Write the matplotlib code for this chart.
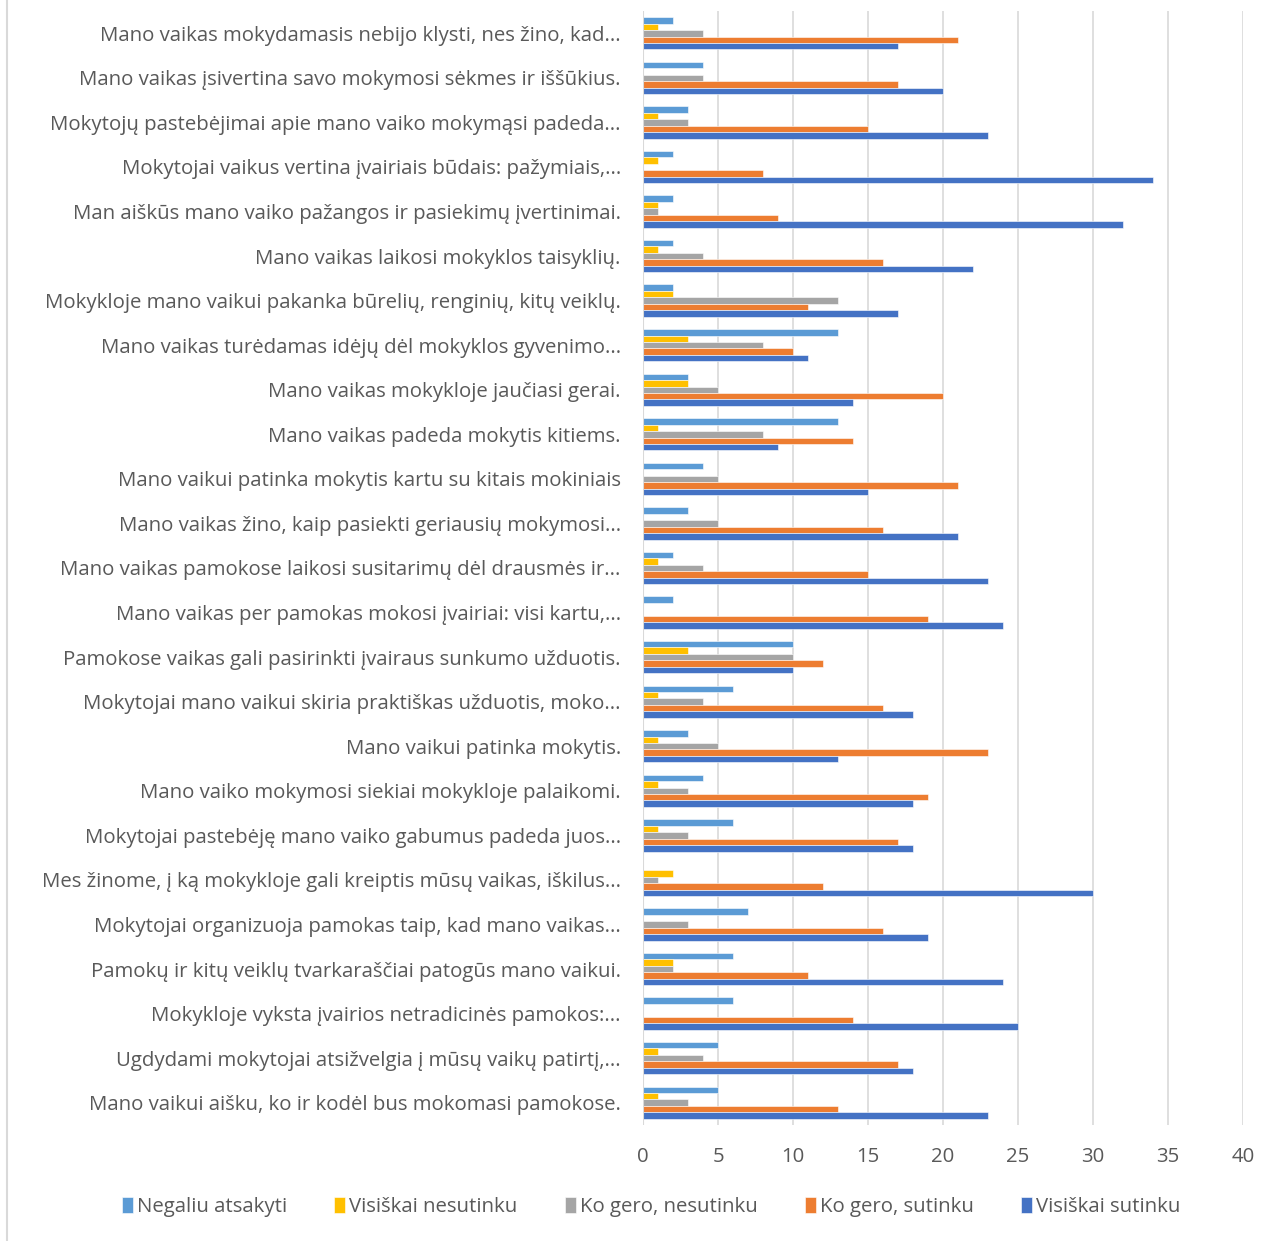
import numpy as np
import matplotlib.pyplot as plt
from matplotlib.lines import Line2D

categories = [
    "Mano vaikas mokydamasis nebijo klysti, nes žino, kad...",
    "Mano vaikas įsivertina savo mokymosi sėkmes ir iššūkius.",
    "Mokytojų pastebėjimai apie mano vaiko mokymąsi padeda...",
    "Mokytojai vaikus vertina įvairiais būdais: pažymiais,...",
    "Man aiškūs mano vaiko pažangos ir pasiekimų įvertinimai.",
    "Mano vaikas laikosi mokyklos taisyklių.",
    "Mokykloje mano vaikui pakanka būrelių, renginių, kitų veiklų.",
    "Mano vaikas turėdamas idėjų dėl mokyklos gyvenimo...",
    "Mano vaikas mokykloje jaučiasi gerai.",
    "Mano vaikas padeda mokytis kitiems.",
    "Mano vaikui patinka mokytis kartu su kitais mokiniais",
    "Mano vaikas žino, kaip pasiekti geriausių mokymosi...",
    "Mano vaikas pamokose laikosi susitarimų dėl drausmės ir...",
    "Mano vaikas per pamokas mokosi įvairiai: visi kartu,...",
    "Pamokose vaikas gali pasirinkti įvairaus sunkumo užduotis.",
    "Mokytojai mano vaikui skiria praktiškas užduotis, moko...",
    "Mano vaikui patinka mokytis.",
    "Mano vaiko mokymosi siekiai mokykloje palaikomi.",
    "Mokytojai pastebėję mano vaiko gabumus padeda juos...",
    "Mes žinome, į ką mokykloje gali kreiptis mūsų vaikas, iškilus...",
    "Mokytojai organizuoja pamokas taip, kad mano vaikas...",
    "Pamokų ir kitų veiklų tvarkaraščiai patogūs mano vaikui.",
    "Mokykloje vyksta įvairios netradicinės pamokos:...",
    "Ugdydami mokytojai atsižvelgia į mūsų vaikų patirtį,...",
    "Mano vaikui aišku, ko ir kodėl bus mokomasi pamokose.",
]

negaliu_atsakyti = [2, 4, 3, 2, 2, 2, 2, 13, 3, 13, 4, 3, 2, 2, 10, 6, 3, 4, 6, 0, 7, 6, 6, 5, 5]
visiskai_nesutinku = [1, 0, 1, 1, 1, 1, 2, 3, 3, 1, 0, 0, 1, 0, 3, 1, 1, 1, 1, 2, 0, 2, 0, 1, 1]
ko_gero_nesutinku = [4, 4, 3, 0, 1, 4, 13, 8, 5, 8, 5, 5, 4, 0, 10, 4, 5, 3, 3, 1, 3, 2, 0, 4, 3]
ko_gero_sutinku = [21, 17, 15, 8, 9, 16, 11, 10, 20, 14, 21, 16, 15, 19, 12, 16, 23, 19, 17, 12, 16, 11, 14, 17, 13]
visiskai_sutinku = [17, 20, 23, 34, 32, 22, 17, 11, 14, 9, 15, 21, 23, 24, 10, 18, 13, 18, 18, 30, 19, 24, 25, 18, 23]

series = [
    ("Negaliu atsakyti", negaliu_atsakyti, "#5B9BD5"),
    ("Visiškai nesutinku", visiskai_nesutinku, "#FFC000"),
    ("Ko gero, nesutinku", ko_gero_nesutinku, "#A5A5A5"),
    ("Ko gero, sutinku", ko_gero_sutinku, "#ED7D31"),
    ("Visiškai sutinku", visiskai_sutinku, "#4472C4"),
]

plt.rcParams['font.family'] = ['Open Sans', 'DejaVu Sans']
txt = '#595959'
fs = 14.7

fig = plt.figure(figsize=(12.76, 12.41), dpi=100)
ax = fig.add_axes([643 / 1276, 1 - 1125 / 1241, 600 / 1276, 1114 / 1241])

y = np.arange(len(categories))
h = 0.145
for k, (name, vals, col) in enumerate(series):
    ax.barh(y + (k - 2) * h, vals, height=h, color=col, label=name,
            edgecolor='white', linewidth=0.4, zorder=3)

ax.set_xlim(0, 40)
ax.set_ylim(len(categories) - 0.5, -0.5)
ax.set_xticks(range(0, 41, 5))
ax.set_yticks(y)
ax.set_yticklabels(categories, fontsize=fs, color=txt)
ax.tick_params(axis='y', length=0, pad=16)
ax.tick_params(axis='x', length=0, pad=16, labelsize=fs, labelcolor=txt)
ax.grid(axis='x', color='#D9D9D9', linewidth=1.2, zorder=0)
for s in ax.spines.values():
    s.set_visible(False)
ax.axvline(0, color='#D9D9D9', linewidth=1.5, zorder=4)

fig.add_artist(Line2D([7 / 1276, 7 / 1276], [0, 1], color='#D9D9D9', linewidth=1.5))

leg = fig.legend(loc='center', bbox_to_anchor=(651 / 1276, 1 - 1207 / 1241), ncol=5,
                 frameon=False, fontsize=fs, handlelength=0.55, handleheight=0.85,
                 handletextpad=0.2, columnspacing=2.3)
for t in leg.get_texts():
    t.set_color(txt)

fig.savefig('out.png', dpi=100)
